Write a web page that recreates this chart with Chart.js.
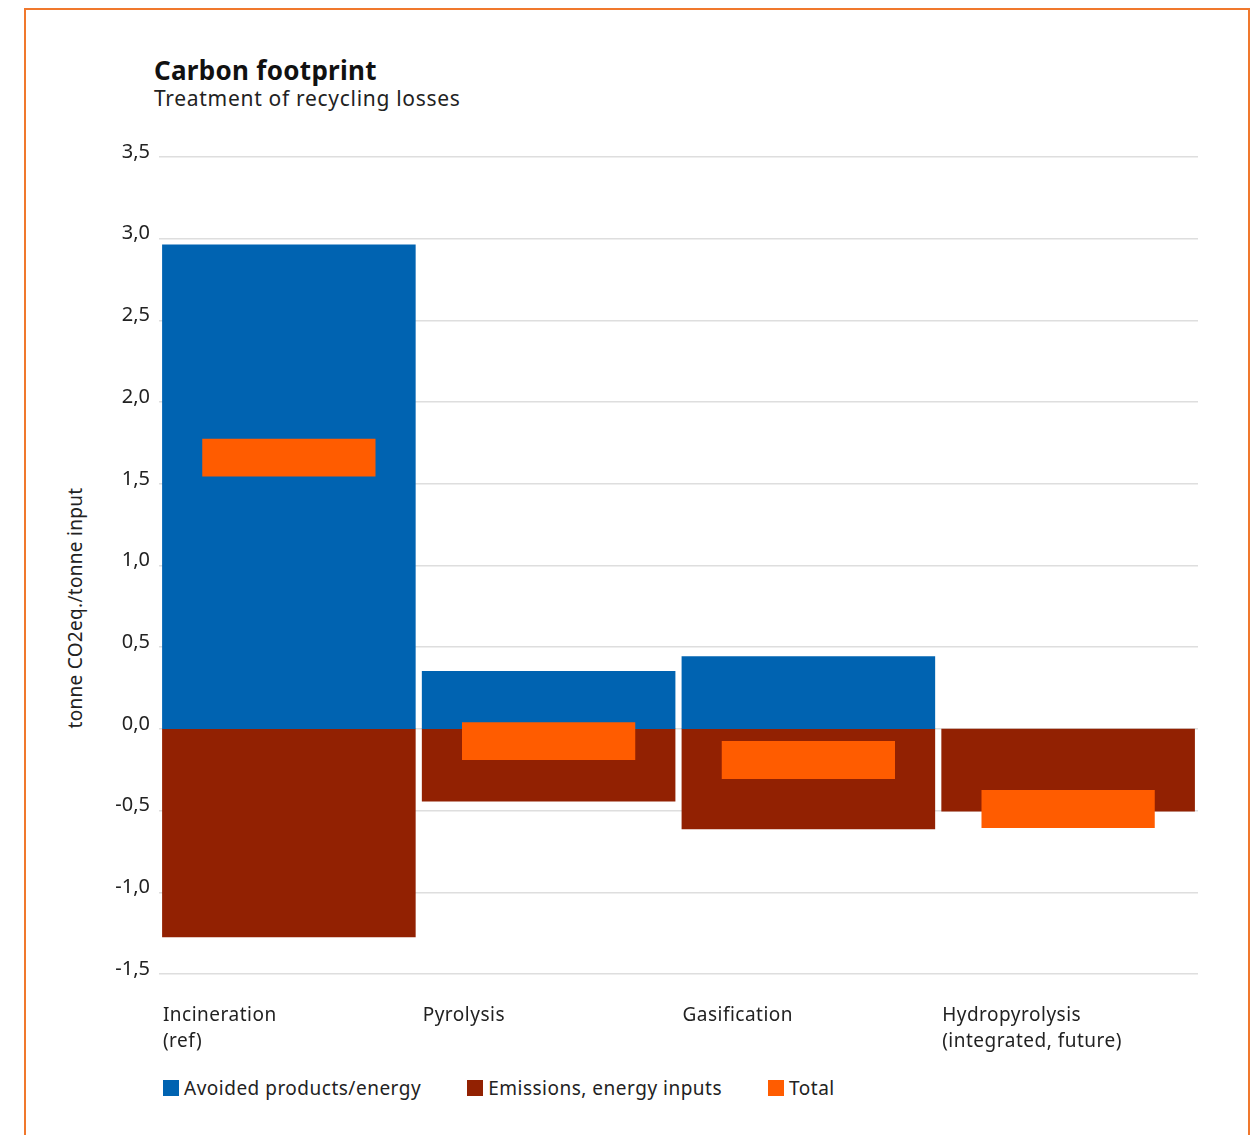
<!DOCTYPE html>
<html>
<head>
<meta charset="utf-8">
<script src="https://cdn.jsdelivr.net/npm/chart.js@4.4.0/dist/chart.umd.min.js"></script>
<style>
  body { margin: 0; background: #fff; font-family: "Noto Sans", sans-serif; color: #1a1a1a; }
  #frame { position: absolute; left: 24px; top: 8px; width: 1226px; height: 1160px; border: 2px solid #f0782d; box-sizing: border-box; }
  #title { position: absolute; left: 154px; top: 52px; font-size: 26px; font-weight: 700; color: #111; letter-spacing: 0.3px; }
  #subtitle { position: absolute; left: 154px; top: 84px; font-size: 21px; color: #222; letter-spacing: 0.7px; }
  #ytitle { position: absolute; left: 75px; top: 608px; transform: translate(-50%, -50%) rotate(-90deg); white-space: nowrap; font-size: 19px; color: #222; letter-spacing: 0.3px; }
  #wrap { position: absolute; left: 40px; top: 130px; width: 1158px; height: 930px; }
  #legend { position: absolute; left: 163px; top: 1075px; display: flex; gap: 46px; font-size: 19px; color: #222; letter-spacing: 0.5px; }
  .item { display: flex; align-items: center; }
  .box { width: 16px; height: 16px; margin-right: 5px; }
</style>
</head>
<body>
<div id="frame"></div>
<div id="title">Carbon footprint</div>
<div id="subtitle">Treatment of recycling losses</div>
<div id="ytitle">tonne CO2eq./tonne input</div>
<div id="wrap"><canvas id="chart"></canvas></div>
<div id="legend"></div>
<script>
// values
const categories = [['Incineration', '(ref)'], ['Pyrolysis'], ['Gasification'], ['Hydropyrolysis', '(integrated, future)']];
const avoided = [2.96, 0.35, 0.44, 0];
const emissions = [-1.27, -0.44, -0.61, -0.50];
const totals = [1.66, -0.075, -0.19, -0.49];
const seriesNames = ['Avoided products/energy', 'Emissions, energy inputs', 'Total'];
const seriesColors = ['#0063b1', '#922102', '#ff5c00'];

// total is shown as a short floating box around its value
const totalHalf = 0.116;
const totalBoxes = totals.map(t => [t - totalHalf, t + totalHalf]);

// slight overlap so blue and red meet at zero without a seam; nothing for empty bars
const inflate = ctx => (ctx.raw ? 0.8 : 0);

// x labels drawn under each bar, left aligned to the bar edge
const barLabels = {
    id: 'barLabels',
    afterDraw(chart) {
        const ctx = chart.ctx;
        const bars = chart.getDatasetMeta(1).data;
        ctx.save();
        ctx.font = '19px "Noto Sans"';
        ctx.letterSpacing = '0.5px';
        ctx.fillStyle = '#222';
        ctx.textAlign = 'left';
        ctx.textBaseline = 'middle';
        categories.forEach((lines, i) => {
            const left = bars[i].x - bars[i].width / 2;
            lines.forEach((line, j) => {
                ctx.fillText(line, left, chart.chartArea.bottom + 42 + j * 26);
            });
        });
        ctx.restore();
    }
};

new Chart(document.getElementById('chart'), {
    type: 'bar',
    data: {
        labels: categories.map(c => c.join(' ')),
        datasets: [
            { label: seriesNames[0], data: avoided, backgroundColor: seriesColors[0], grouped: false, order: 1, inflateAmount: inflate, barPercentage: 0.97, categoryPercentage: 1 },
            { label: seriesNames[1], data: emissions, backgroundColor: seriesColors[1], grouped: false, order: 1, inflateAmount: inflate, barPercentage: 0.97, categoryPercentage: 1 },
            { label: seriesNames[2], data: totalBoxes, backgroundColor: seriesColors[2], grouped: false, order: 0, barPercentage: 0.667, categoryPercentage: 1 }
        ]
    },
    options: {
        responsive: true,
        maintainAspectRatio: false,
        animation: false,
        layout: { padding: { top: 27, bottom: 86, left: 0, right: 0 } },
        plugins: { legend: { display: false }, tooltip: { enabled: false } },
        scales: {
            x: { display: false },
            y: {
                min: -1.5,
                max: 3.5,
                afterFit: scale => { scale.width = 119; },
                border: { display: false },
                grid: { color: '#dedede', lineWidth: 1.5, drawTicks: false },
                ticks: {
                    stepSize: 0.5,
                    padding: 9,
                    labelOffset: -5,
                    color: '#222',
                    font: { size: 20, family: '"Noto Sans"' },
                    callback: v => v.toFixed(1).replace('.', ',')
                }
            }
        }
    },
    plugins: [barLabels]
});

// legend built from the series names and colours
const legend = document.getElementById('legend');
seriesNames.forEach((name, i) => {
    const item = document.createElement('div');
    item.className = 'item';
    item.innerHTML = '<span class="box" style="background:' + seriesColors[i] + '"></span>' + name;
    legend.appendChild(item);
});
</script>
</body>
</html>
